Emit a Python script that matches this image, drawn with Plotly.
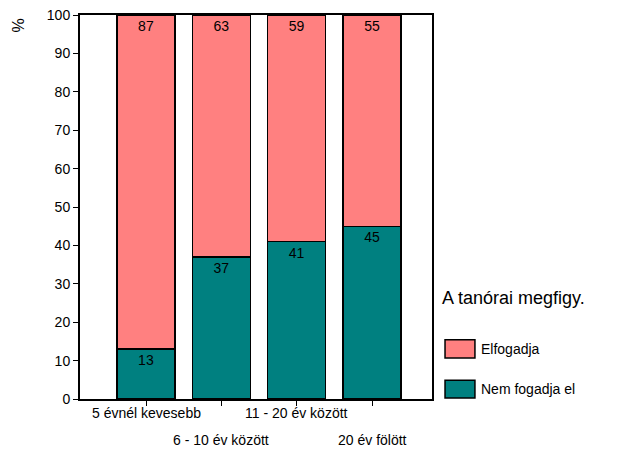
import plotly.graph_objects as go

categories = ["5 évnél kevesebb", "6 - 10 év között", "11 - 20 év között", "20 év fölött"]
tick_labels = ["5 évnél kevesebb", "6 - 10 év között", "11 - 20 év között", "20 év fölött"]
tick_rows = [0, 1, 0, 1]
nem_fogadja_el = [13, 37, 41, 45]
elfogadja = [87, 63, 59, 55]
y_ticks = [0, 10, 20, 30, 40, 50, 60, 70, 80, 90, 100]
legend_title = "A tanórai megfigy."

FONT = "Liberation Sans, Arial, sans-serif"
x_idx = list(range(len(categories)))
TEAL = "#008080"
SALMON = "#FF8080"

fig = go.Figure()
fig.add_trace(go.Bar(
    x=x_idx, y=nem_fogadja_el, name="Nem fogadja el",
    marker=dict(color=TEAL, line=dict(color="black", width=1.3)),
    text=[str(v) for v in nem_fogadja_el], textposition="inside",
    insidetextanchor="end", textfont=dict(color="black", size=14, family=FONT),
    width=0.77, showlegend=False,
))
fig.add_trace(go.Bar(
    x=x_idx, y=elfogadja, name="Elfogadja",
    marker=dict(color=SALMON, line=dict(color="black", width=1.3)),
    text=[str(v) for v in elfogadja], textposition="inside",
    insidetextanchor="end", textfont=dict(color="black", size=14, family=FONT),
    width=0.77, showlegend=False,
))

annotations = [dict(
    text="%", xref="paper", yref="paper", x=-0.172, y=0.974,
    xanchor="center", yanchor="middle", textangle=-90, showarrow=False,
    font=dict(size=16),
)]
# staggered category labels
for i, (lab, row) in enumerate(zip(tick_labels, tick_rows)):
    annotations.append(dict(
        text=lab, xref="x", yref="paper", x=x_idx[i], y=0,
        xanchor="center", yanchor="middle", yshift=-14 - 27 * row,
        showarrow=False, font=dict(size=14),
    ))
# manual legend
annotations.append(dict(
    text=legend_title, xref="paper", yref="paper", x=1.0227, y=0.263,
    xanchor="left", yanchor="middle", showarrow=False, font=dict(size=18),
))
shapes = []
legend_items = [("Elfogadja", SALMON, 0.107, 0.154), ("Nem fogadja el", TEAL, 0.0026, 0.049)]
for name, col, y0, y1 in legend_items:
    shapes.append(dict(type="rect", xref="paper", yref="paper",
                       x0=1.037, x1=1.122, y0=y0, y1=y1,
                       fillcolor=col, line=dict(color="black", width=1.5)))
    annotations.append(dict(
        text=name, xref="paper", yref="paper", x=1.1335, y=(y0 + y1) / 2,
        xanchor="left", yanchor="middle", showarrow=False, font=dict(size=14),
    ))

fig.update_layout(
    barmode="stack",
    width=618, height=450,
    margin=dict(l=72, r=194, t=7, b=59, autoexpand=False),
    paper_bgcolor="white", plot_bgcolor="white",
    font=dict(family=FONT, color="black", size=13),
    showlegend=False,
    uniformtext=dict(minsize=8, mode="show"),
    xaxis=dict(
        range=[-0.876, 3.796], tickmode="array", tickvals=x_idx, showticklabels=False,
        showline=True, linecolor="black", linewidth=2, mirror=True,
        ticks="outside", ticklen=5, tickcolor="black", showgrid=False,
        zeroline=False, automargin=False,
    ),
    yaxis=dict(
        range=[0, 100], tickmode="array", tickvals=y_ticks,
        showline=True, linecolor="black", linewidth=2, mirror=True,
        ticks="outside", ticklen=5, tickcolor="black", showgrid=False,
        tickfont=dict(size=14), zeroline=False, automargin=False,
        ticklabeloverflow="allow",
    ),
    annotations=annotations,
    shapes=shapes,
)

fig.write_html("out.html")
